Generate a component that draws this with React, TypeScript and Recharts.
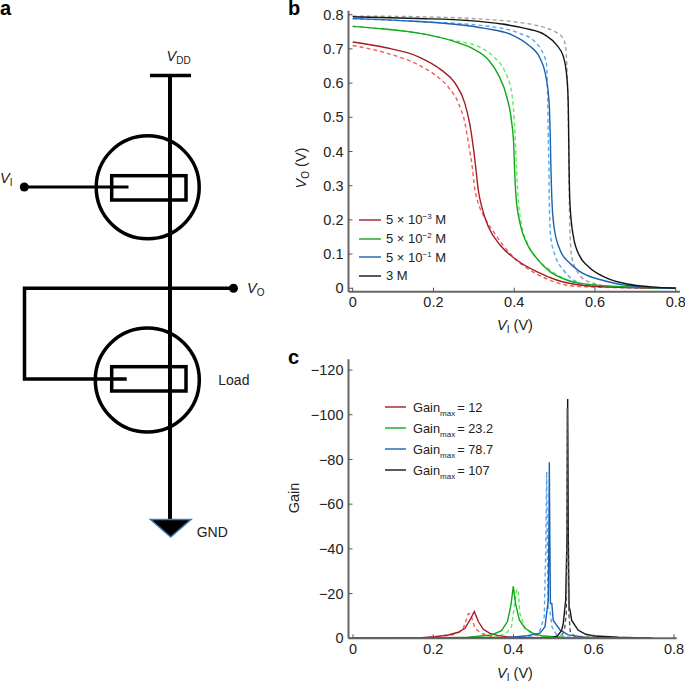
import { LineChart, Line, XAxis, YAxis, Legend } from "recharts";

// --- panel b: transfer curves (V_I, V_O in volts)
const B_RED_X = [0, 0.08, 0.163, 0.22, 0.2535, 0.278, 0.29, 0.299, 0.3054, 0.311, 0.3195, 0.336, 0.365, 0.406, 0.4557, 0.505, 0.563, 0.6, 0.8];
const B_RED_Y = [0.72, 0.704, 0.677, 0.638, 0.6, 0.54, 0.48, 0.41, 0.346, 0.2874, 0.2387, 0.18, 0.1266, 0.0827, 0.0486, 0.0243, 0.0096, 0.005, 0];
const B_RED_DASH_X = [0, 0.08, 0.163, 0.204, 0.237, 0.262, 0.278, 0.288, 0.297, 0.3005, 0.311, 0.3236, 0.3484, 0.406, 0.4557, 0.505, 0.563, 0.8];
const B_RED_DASH_Y = [0.71, 0.689, 0.653, 0.624, 0.588, 0.541, 0.483, 0.415, 0.346, 0.307, 0.2484, 0.214, 0.1656, 0.082, 0.042, 0.0165, 0.0048, 0];
const B_GREEN_X = [0, 0.08, 0.163, 0.245, 0.295, 0.336, 0.361, 0.3815, 0.394, 0.399, 0.401, 0.4045, 0.4144, 0.431, 0.4557, 0.4887, 0.53, 0.563, 0.7, 0.8];
const B_GREEN_Y = [0.766, 0.758, 0.746, 0.724, 0.702, 0.668, 0.624, 0.56, 0.483, 0.415, 0.346, 0.268, 0.19, 0.1315, 0.0876, 0.0486, 0.0243, 0.0145, 0.003, 0];
const B_GREEN_DASH_X = [0, 0.08, 0.163, 0.245, 0.32, 0.3526, 0.377, 0.394, 0.402, 0.406, 0.4095, 0.416, 0.435, 0.46, 0.4887, 0.5135, 0.5755, 0.7, 0.8];
const B_GREEN_DASH_Y = [0.766, 0.758, 0.746, 0.726, 0.702, 0.673, 0.634, 0.57, 0.453, 0.346, 0.268, 0.2, 0.1266, 0.0827, 0.0535, 0.034, 0.012, 0.002, 0];
const B_BLUE_X = [0, 0.121, 0.245, 0.328, 0.394, 0.435, 0.464, 0.48, 0.487, 0.4895, 0.491, 0.493, 0.4986, 0.5135, 0.538, 0.563, 0.625, 0.7, 0.8];
const B_BLUE_Y = [0.7885, 0.7827, 0.773, 0.76, 0.741, 0.7115, 0.6725, 0.609, 0.531, 0.4327, 0.346, 0.268, 0.18, 0.112, 0.073, 0.0486, 0.0214, 0.005, 0];
const B_BLUE_DASH_X = [0, 0.163, 0.328, 0.41, 0.452, 0.472, 0.48, 0.483, 0.4847, 0.486, 0.487, 0.4904, 0.501, 0.522, 0.5465, 0.592, 0.7, 0.8];
const B_BLUE_DASH_Y = [0.7885, 0.78, 0.767, 0.747, 0.72, 0.685, 0.6565, 0.549, 0.42, 0.346, 0.2484, 0.151, 0.097, 0.0535, 0.0243, 0.008, 0.001, 0];
const B_BLACK_X = [0, 0.163, 0.2865, 0.369, 0.427, 0.476, 0.505, 0.522, 0.531, 0.534, 0.536, 0.538, 0.5466, 0.563, 0.584, 0.625, 0.683, 0.74, 0.8];
const B_BLACK_Y = [0.794, 0.789, 0.783, 0.773, 0.76, 0.741, 0.7115, 0.677, 0.609, 0.531, 0.346, 0.2484, 0.151, 0.0925, 0.063, 0.032, 0.0117, 0.004, 0];
const B_GREY_X = [0, 0.163, 0.328, 0.41, 0.468, 0.501, 0.518, 0.527, 0.531, 0.534, 0.5366, 0.538, 0.5424, 0.559, 0.584, 0.658, 0.8];
const B_GREY_Y = [0.796, 0.794, 0.7865, 0.7778, 0.765, 0.7505, 0.736, 0.71, 0.629, 0.5, 0.2484, 0.1705, 0.0925, 0.0438, 0.0195, 0.003, 0];

// --- panel c: gain curves
const C_RED_X = [0, 0.163, 0.204, 0.2375, 0.2625, 0.279, 0.2915, 0.3023, 0.3123, 0.3247, 0.3414, 0.362, 0.395, 0.4536, 0.744];
const C_RED_Y = [0, -0.15, -0.75, -1.5, -2.7, -4.5, -8.2, -12, -7.5, -4, -2.2, -1.2, -0.45, -0.15, 0];
const C_RED_DASH_X = [0, 0.163, 0.215, 0.246, 0.265, 0.275, 0.2874, 0.293, 0.304, 0.32, 0.34, 0.362, 0.744];
const C_RED_DASH_Y = [0, -0.15, -0.75, -1.5, -2.7, -4.5, -11, -11, -4.5, -2.2, -1, -0.45, 0];
const C_GREEN_X = [0, 0.204, 0.287, 0.3455, 0.37, 0.385, 0.3937, 0.3995, 0.405, 0.4145, 0.4286, 0.449, 0.474, 0.5365, 0.744];
const C_GREEN_Y = [0, -0.15, -0.45, -1.5, -3.4, -7.5, -15, -23.2, -15.6, -8.2, -4.5, -2.2, -1, -0.3, 0];
const C_GREEN_DASH_X = [0, 0.287, 0.362, 0.385, 0.395, 0.404, 0.408, 0.412, 0.416, 0.4287, 0.445, 0.462, 0.537, 0.744];
const C_GREEN_DASH_Y = [0, -0.15, -0.75, -2.8, -5.2, -17, -22, -21, -11, -4.5, -2, -1, -0.15, 0];
const C_BLUE_X = [0, 0.37, 0.4287, 0.466, 0.4785, 0.4836, 0.4867, 0.4882, 0.4893, 0.4905, 0.492, 0.4955, 0.499, 0.516, 0.5365, 0.578, 0.744];
const C_BLUE_Y = [0, -0.15, -1, -2.3, -5.2, -12.7, -17, -47, -78.7, -47, -15.6, -15.6, -8, -3.7, -1.5, -0.45, 0];
const C_BLUE_DASH_X = [0, 0.412, 0.462, 0.4767, 0.4804, 0.4826, 0.4845, 0.486, 0.491, 0.496, 0.506, 0.53, 0.6, 0.744];
const C_BLUE_DASH_Y = [0, -0.15, -1.5, -9.7, -40, -74.5, -40, -14, -12, -5, -2, -0.6, -0.1, 0];
const C_BLACK_X = [0, 0.495, 0.51, 0.52, 0.524, 0.53, 0.5335, 0.535, 0.5365, 0.5385, 0.5408, 0.545, 0.561, 0.58, 0.603, 0.661, 0.744];
const C_BLACK_Y = [0, -0.15, -1.2, -3.5, -6.7, -17, -47, -107, -47, -14, -12.6, -8, -3.7, -1.8, -1, -0.45, 0];
const C_GREY_X = [0, 0.512, 0.5266, 0.5316, 0.5328, 0.534, 0.5352, 0.538, 0.5415, 0.553, 0.661];
const C_GREY_Y = [0, -0.15, -3, -11, -47, -103, -47, -11, -3, -0.75, 0];

// --- axes and legends
const X_TICKS = [0, 0.2, 0.4, 0.6, 0.8];
const B_Y_TICKS = [0, 0.1, 0.2, 0.3, 0.4, 0.5, 0.6, 0.7, 0.8];
const C_Y_TICKS = [0, -20, -40, -60, -80, -100, -120];
const B_LEGEND_EXPONENTS = ["−3", "−2", "−1"];
const C_LEGEND_VALUES = ["12", "23.2", "78.7", "107"];

const RED = "#a31d24";
const GREEN = "#12a81a";
const BLUE = "#1b62b0";
const BLACK = "#141414";
const RED_DASH = "#f65a5a";
const GREEN_DASH = "#5fec5f";
const BLUE_DASH = "#55a8f0";
const GREY_DASH = "#a0a0a0";
const DARK_DASH = "#555555";
const AXIS = "#666666";
const TEXT = "#222222";
const FONT = "'Liberation Sans', Arial, sans-serif";

const zip = (xs: number[], ys: number[]) => xs.map((x, i) => ({ x, y: ys[i] }));

const fmtV = (v: number) => (v === 0 ? "0" : v.toFixed(1));
const fmtGain = (v: number) => (v === 0 ? "0" : "−" + Math.abs(v));

const tickStyle = { fontSize: 14.5, fill: TEXT, fontFamily: FONT };
const axisLine = { stroke: AXIS, strokeWidth: 2 };
const tickLine = { stroke: "#555555", strokeWidth: 1 };

const solidOnly = (payload: any[] | undefined) =>
  (payload ?? []).filter((item) => !String(item.value).includes("dashed"));

function Swatch({ color, width, gap }: { color: string; width: number; gap: number }) {
  return (
    <svg width={width} height={4} style={{ marginRight: gap, flex: "none" }}>
      <line x1={0} x2={width} y1={2} y2={2} stroke={color} strokeWidth={1.4} />
    </svg>
  );
}

function BLegend({ payload }: any) {
  return (
    <div style={{ fontFamily: FONT, fontSize: 13, color: TEXT }}>
      {solidOnly(payload).map((item: any, i: number) => (
        <div
          key={item.value}
          style={{ display: "flex", alignItems: "center", height: i === 2 ? 18 : 19 }}
        >
          <Swatch color={item.color} width={22} gap={5} />
          {i < 3 ? (
            <span>
              5 × 10<sup style={{ fontSize: 8, lineHeight: 0 }}>{B_LEGEND_EXPONENTS[i]}</sup> M
            </span>
          ) : (
            <span>3 M</span>
          )}
        </div>
      ))}
    </div>
  );
}

function CLegend({ payload }: any) {
  return (
    <div style={{ fontFamily: FONT, fontSize: 12.8, color: TEXT }}>
      {solidOnly(payload).map((item: any, i: number) => (
        <div key={item.value} style={{ display: "flex", alignItems: "center", height: 21 }}>
          <Swatch color={item.color} width={21} gap={7} />
          <span>
            Gain<sub style={{ fontSize: 8, lineHeight: 0 }}>max</sub>
            <span style={{ marginLeft: 2 }}>= {C_LEGEND_VALUES[i]}</span>
          </span>
        </div>
      ))}
    </div>
  );
}

// the input/output voltage label, with the italic V and small subscript
function VLabel({ x, y, sub, unit, rotate }: any) {
  return (
    <text
      x={x}
      y={y}
      textAnchor="middle"
      fontFamily={FONT}
      fontSize={14.5}
      fill={TEXT}
      transform={rotate ? `rotate(-90 ${x} ${y})` : undefined}
    >
      <tspan fontStyle="italic">V</tspan>
      <tspan fontSize={10} dy={3}>{sub}</tspan>
      {unit ? <tspan dy={-3}> (V)</tspan> : null}
    </text>
  );
}

function Circuit() {
  const wire = { stroke: "#000", strokeWidth: 3.5, fill: "none" };
  const label = { fontFamily: FONT, fontSize: 14, fill: TEXT };
  return (
    <svg width={285} height={682} style={{ position: "absolute", left: 0, top: 0 }}>
      <text x={0} y={15} fontFamily={FONT} fontSize={20} fontWeight="bold" fill="#000">a</text>
      <line x1={150} x2={191} y1={75.5} y2={75.5} {...wire} />
      <line x1={170} x2={170} y1={75} y2={520} {...wire} strokeWidth={4} />
      <circle cx={147.7} cy={187.3} r={51.5} {...wire} />
      <rect x={111.7} y={175.7} width={74.3} height={24.3} {...wire} />
      <line x1={24} x2={128.5} y1={187} y2={187} {...wire} strokeWidth={3} />
      <circle cx={24.3} cy={187} r={4.5} fill="#000" />
      <path d="M233 288.3H24.5V379H126.7" {...wire} />
      <circle cx={233.5} cy={288.3} r={4.5} fill="#000" />
      <circle cx={147.3} cy={380} r={52} {...wire} />
      <rect x={111.7} y={366.7} width={74.3} height={24.3} {...wire} />
      <path d="M150.5 519.5H191L170.7 537Z" fill="#000" stroke="#3d7ab5" strokeWidth={1.5} />
      <text x={166.5} y={61} {...label} fontSize={14.5}>
        <tspan fontStyle="italic">V</tspan>
        <tspan fontSize={10} dy={3}>DD</tspan>
      </text>
      <text x={0} y={183} {...label} fontSize={14.5}>
        <tspan fontStyle="italic">V</tspan>
        <tspan fontSize={10} dy={3}>I</tspan>
      </text>
      <text x={247} y={293} {...label} fontSize={14.5}>
        <tspan fontStyle="italic">V</tspan>
        <tspan fontSize={10} dy={3}>O</tspan>
      </text>
      <text x={218.3} y={385} {...label}>Load</text>
      <text x={196.7} y={536.5} {...label}>GND</text>
    </svg>
  );
}

function series(data: { x: number; y: number }[], color: string, name: string, dashed: boolean, curve: any) {
  return (
    <Line
      key={name}
      data={data}
      dataKey="y"
      name={name}
      type={curve}
      stroke={color}
      strokeWidth={1.4}
      strokeDasharray={dashed ? "4 3" : undefined}
      dot={false}
      activeDot={false}
      legendType={dashed ? "none" : "line"}
      isAnimationActive={false}
    />
  );
}

function PanelB() {
  return (
    <LineChart
      width={400}
      height={340}
      margin={{ top: 10.7, right: 5, bottom: 0, left: 0 }}
      style={{ position: "absolute", left: 285, top: 0 }}
    >
      <XAxis
        type="number"
        dataKey="x"
        domain={[-0.0104, 0.8106]}
        ticks={X_TICKS}
        tickFormatter={fmtV}
        height={48.3}
        tick={tickStyle}
        axisLine={axisLine}
        tickLine={tickLine}
        tickSize={-4}
        tickMargin={9}
        allowDataOverflow
      />
      <YAxis
        type="number"
        domain={[-0.01, 0.8117]}
        ticks={B_Y_TICKS}
        tickFormatter={fmtV}
        width={63.5}
        tick={tickStyle}
        axisLine={axisLine}
        tickLine={tickLine}
        tickSize={-4}
        tickMargin={9}
        allowDataOverflow
      />
      <Legend
        layout="vertical"
        align="center"
        verticalAlign="middle"
        itemSorter={null}
        content={<BLegend />}
        wrapperStyle={{ left: 74, top: 210, width: 120 }}
      />
      {series(zip(B_RED_DASH_X, B_RED_DASH_Y), RED_DASH, "red dashed", true, "monotone")}
      {series(zip(B_GREEN_DASH_X, B_GREEN_DASH_Y), GREEN_DASH, "green dashed", true, "monotone")}
      {series(zip(B_BLUE_DASH_X, B_BLUE_DASH_Y), BLUE_DASH, "blue dashed", true, "monotone")}
      {series(zip(B_GREY_X, B_GREY_Y), GREY_DASH, "grey dashed", true, "monotone")}
      {series(zip(B_RED_X, B_RED_Y), RED, "5e-3", false, "monotone")}
      {series(zip(B_GREEN_X, B_GREEN_Y), GREEN, "5e-2", false, "monotone")}
      {series(zip(B_BLUE_X, B_BLUE_Y), BLUE, "5e-1", false, "monotone")}
      {series(zip(B_BLACK_X, B_BLACK_Y), BLACK, "3", false, "monotone")}
      <text x={3} y={15} fontFamily={FONT} fontSize={20} fontWeight="bold" fill="#000">b</text>
      <VLabel x={21} y={168} sub="O" unit rotate />
      <VLabel x={230} y={330} sub="I" unit />
    </LineChart>
  );
}

function PanelC() {
  return (
    <LineChart
      width={400}
      height={342}
      margin={{ top: 19.3, right: 8.3, bottom: 0, left: 0 }}
      style={{ position: "absolute", left: 285, top: 340 }}
    >
      <XAxis
        type="number"
        dataKey="x"
        domain={[-0.0112, 0.8067]}
        ticks={X_TICKS}
        tickFormatter={fmtV}
        height={43.7}
        tick={tickStyle}
        axisLine={axisLine}
        tickLine={tickLine}
        tickSize={-4}
        tickMargin={9}
        allowDataOverflow
      />
      <YAxis
        type="number"
        reversed
        domain={[-124.8, 0]}
        ticks={C_Y_TICKS}
        tickFormatter={fmtGain}
        width={63.5}
        tick={tickStyle}
        axisLine={axisLine}
        tickLine={tickLine}
        tickSize={-4}
        tickMargin={9}
        allowDataOverflow
      />
      <Legend
        layout="vertical"
        align="center"
        verticalAlign="middle"
        itemSorter={null}
        content={<CLegend />}
        wrapperStyle={{ left: 100, top: 56.5, width: 160 }}
      />
      {series(zip(C_RED_DASH_X, C_RED_DASH_Y), RED_DASH, "red dashed", true, "linear")}
      {series(zip(C_GREEN_DASH_X, C_GREEN_DASH_Y), GREEN_DASH, "green dashed", true, "linear")}
      {series(zip(C_BLUE_DASH_X, C_BLUE_DASH_Y), BLUE_DASH, "blue dashed", true, "linear")}
      {series(zip(C_RED_X, C_RED_Y), RED, "12", false, "linear")}
      {series(zip(C_GREEN_X, C_GREEN_Y), GREEN, "23.2", false, "linear")}
      {series(zip(C_BLUE_X, C_BLUE_Y), BLUE, "78.7", false, "linear")}
      {series(zip(C_BLACK_X, C_BLACK_Y), BLACK, "107", false, "linear")}
      {series(zip(C_GREY_X, C_GREY_Y), DARK_DASH, "grey dashed", true, "linear")}
      <text x={3} y={24} fontFamily={FONT} fontSize={20} fontWeight="bold" fill="#000">c</text>
      <text
        x={14}
        y={158}
        textAnchor="middle"
        fontFamily={FONT}
        fontSize={14.5}
        fill={TEXT}
        transform="rotate(-90 14 158)"
      >
        Gain
      </text>
      <VLabel x={230} y={338} sub="I" unit />
    </LineChart>
  );
}

export default function App() {
  return (
    <div style={{ position: "absolute", left: 0, top: 0, width: 685, height: 682, background: "#fff" }}>
      <Circuit />
      <PanelB />
      <PanelC />
    </div>
  );
}
